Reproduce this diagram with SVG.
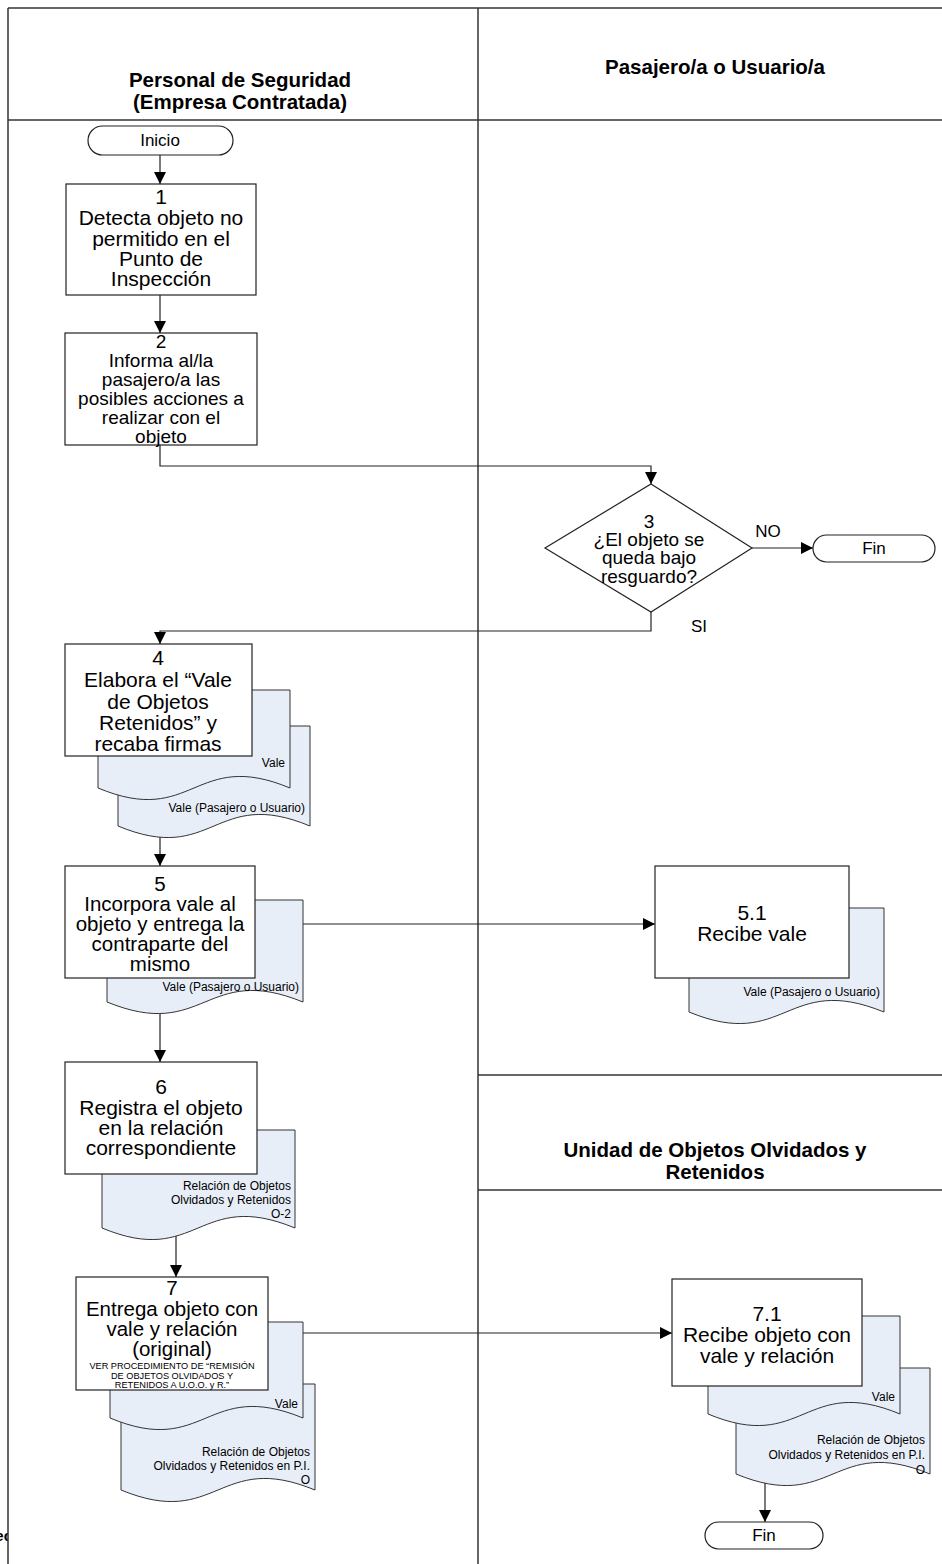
<svg xmlns="http://www.w3.org/2000/svg" width="942" height="1564" viewBox="0 0 942 1564">
  <defs>
    <marker id="arrow" viewBox="0 0 10 10" refX="10" refY="5" markerWidth="12" markerHeight="12" markerUnits="userSpaceOnUse" orient="auto">
      <path d="M0,0 L10,5 L0,10 Z" fill="#000"/>
    </marker>
    <style>
      .lane{fill:none;stroke:#333;stroke-width:1.5}
      .box{fill:#fff;stroke:#222;stroke-width:1.2}
      .doc{fill:#e8eef8;stroke:#333;stroke-width:1}
      .t{font-family:"Liberation Sans",Arial,sans-serif;font-size:21px;fill:#000;text-anchor:middle}
      .h{font-weight:bold;font-size:20.5px}
      .n{font-size:19px}
      .k{font-size:20.5px}
      .m{font-size:19px}
      .lb{font-size:17px}
      .d{font-size:12px;text-anchor:end}
      .s{font-size:9.2px}
      .c{fill:none;stroke:#222;stroke-width:1.2}
    </style>
  </defs>

  <rect width="942" height="1564" fill="#fff"/>
  <!-- text fragment spilling past the left edge of the pool -->
  <text class="t h" x="12" y="1541" style="text-anchor:end;font-size:15px">ec</text>

  <!-- swimlanes -->
  <g id="lanes">
    <rect x="8" y="8" width="940" height="1560" fill="#fff"/>
    <line class="lane" x1="8" y1="8" x2="942" y2="8"/>
    <line class="lane" x1="8" y1="8" x2="8" y2="1564"/>
    <line class="lane" x1="8" y1="120" x2="942" y2="120"/>
    <line class="lane" x1="478" y1="8" x2="478" y2="1564"/>
    <line class="lane" x1="478" y1="1075" x2="942" y2="1075"/>
    <line class="lane" x1="478" y1="1190" x2="942" y2="1190"/>
    <text class="t h" x="240" y="87">Personal de Seguridad</text>
    <text class="t h" x="240" y="109">(Empresa Contratada)</text>
    <text class="t h" x="715" y="74">Pasajero/a o Usuario/a</text>
    <text class="t h" x="715" y="1157">Unidad de Objetos Olvidados y</text>
    <text class="t h" x="715" y="1179">Retenidos</text>
  </g>

  <!-- connectors -->
  <g id="connectors">
    <path class="c" d="M160 155 V184" marker-end="url(#arrow)"/>
    <path class="c" d="M160 295 V333" marker-end="url(#arrow)"/>
    <path class="c" d="M160 445 V466 H651 V484" marker-end="url(#arrow)"/>
    <path class="c" d="M752 548 H813" marker-end="url(#arrow)"/>
    <path class="c" d="M651 612 V631 H160 V644" marker-end="url(#arrow)"/>
    <path class="c" d="M160 836 V866" marker-end="url(#arrow)"/>
    <path class="c" d="M303 924 H655" marker-end="url(#arrow)"/>
    <path class="c" d="M160 1013 V1062" marker-end="url(#arrow)"/>
    <path class="c" d="M176 1236 V1277" marker-end="url(#arrow)"/>
    <path class="c" d="M303 1333 H672" marker-end="url(#arrow)"/>
    <path class="c" d="M765 1483 V1522" marker-end="url(#arrow)"/>
    <text class="t lb" x="768" y="537">NO</text>
    <text class="t lb" x="699" y="632">SI</text>
  </g>

  <g id="inicio">
    <rect class="box" x="88" y="126" width="145" height="29" rx="14.5"/>
    <text class="t lb" x="160" y="146">Inicio</text>
  </g>

  <g id="step1">
    <rect class="box" x="66" y="184" width="190" height="111"/>
    <text class="t" x="161" y="204">1</text>
    <text class="t" x="161" y="225">Detecta objeto no</text>
    <text class="t" x="161" y="246">permitido en el</text>
    <text class="t" x="161" y="266">Punto de</text>
    <text class="t" x="161" y="286">Inspección</text>
  </g>

  <g id="step2">
    <rect class="box" x="65" y="333" width="192" height="112"/>
    <text class="t n" x="161" y="348">2</text>
    <text class="t n" x="161" y="367">Informa al/la</text>
    <text class="t n" x="161" y="386">pasajero/a las</text>
    <text class="t n" x="161" y="405">posibles acciones a</text>
    <text class="t n" x="161" y="424">realizar con el</text>
    <text class="t n" x="161" y="443">objeto</text>
  </g>

  <g id="step3">
    <polygon class="box" points="651,484 752,548 651,612 545,548"/>
    <text class="t m" x="649" y="528">3</text>
    <text class="t m" x="649" y="546">¿El objeto se</text>
    <text class="t m" x="649" y="564">queda bajo</text>
    <text class="t m" x="649" y="583">resguardo?</text>
  </g>

  <g id="fin1">
    <rect class="box" x="813" y="535" width="122" height="27" rx="13.5"/>
    <text class="t lb" x="874" y="554">Fin</text>
  </g>

  <g id="step4">
    <path class="doc" d="M118 726 H310 V826 C214 786 214 866 118 826 Z"/>
    <text class="t d" x="305" y="812">Vale (Pasajero o Usuario)</text>
    <path class="doc" d="M98 690 H290 V788 C194 748 194 828 98 788 Z"/>
    <text class="t d" x="285" y="767">Vale</text>
    <rect class="box" x="65" y="644" width="187" height="112"/>
    <text class="t" x="158" y="665">4</text>
    <text class="t" x="158" y="687">Elabora el “Vale</text>
    <text class="t" x="158" y="709">de Objetos</text>
    <text class="t" x="158" y="730">Retenidos” y</text>
    <text class="t" x="158" y="751">recaba firmas</text>
  </g>

  <g id="step5">
    <path class="doc" d="M107 900 H303 V1002 C205 962 205 1042 107 1002 Z"/>
    <text class="t d" x="299" y="991">Vale (Pasajero o Usuario)</text>
    <rect class="box" x="65" y="866" width="190" height="112"/>
    <text class="t k" x="160" y="891">5</text>
    <text class="t k" x="160" y="911">Incorpora vale al</text>
    <text class="t k" x="160" y="931">objeto y entrega la</text>
    <text class="t k" x="160" y="951">contraparte del</text>
    <text class="t k" x="160" y="971">mismo</text>
  </g>

  <g id="step5_1">
    <path class="doc" d="M689 908 H884 V1012 C786 972 786 1052 689 1012 Z"/>
    <text class="t d" x="880" y="996">Vale (Pasajero o Usuario)</text>
    <rect class="box" x="655" y="866" width="194" height="112"/>
    <text class="t" x="752" y="920">5.1</text>
    <text class="t" x="752" y="941">Recibe vale</text>
  </g>

  <g id="step6">
    <path class="doc" d="M102 1130 H295 V1228 C198 1188 198 1268 102 1228 Z"/>
    <text class="t d" x="291" y="1190">Relación de Objetos</text>
    <text class="t d" x="291" y="1204">Olvidados y Retenidos</text>
    <text class="t d" x="291" y="1218">O-2</text>
    <rect class="box" x="65" y="1062" width="192" height="112"/>
    <text class="t" x="161" y="1094">6</text>
    <text class="t" x="161" y="1115">Registra el objeto</text>
    <text class="t" x="161" y="1135">en la relación</text>
    <text class="t" x="161" y="1155">correspondiente</text>
  </g>

  <g id="step7">
    <path class="doc" d="M121 1384 H315 V1490 C218 1450 218 1530 121 1490 Z"/>
    <text class="t d" x="310" y="1456">Relación de Objetos</text>
    <text class="t d" x="310" y="1470">Olvidados y Retenidos en P.I.</text>
    <text class="t d" x="310" y="1484">O</text>
    <path class="doc" d="M110 1322 H303 V1418 C206 1378 206 1458 110 1418 Z"/>
    <text class="t d" x="298" y="1408">Vale</text>
    <rect class="box" x="76" y="1277" width="192" height="113"/>
    <text class="t k" x="172" y="1295">7</text>
    <text class="t k" x="172" y="1316">Entrega objeto con</text>
    <text class="t k" x="172" y="1336">vale y relación</text>
    <text class="t k" x="172" y="1356">(original)</text>
    <text class="t s" x="172" y="1369">VER PROCEDIMIENTO DE “REMISIÓN</text>
    <text class="t s" x="172" y="1379">DE OBJETOS OLVIDADOS Y</text>
    <text class="t s" x="172" y="1388">RETENIDOS A U.O.O. y R.”</text>
  </g>

  <g id="step7_1">
    <path class="doc" d="M736 1368 H930 V1474 C833 1434 833 1514 736 1474 Z"/>
    <text class="t d" x="925" y="1444">Relación de Objetos</text>
    <text class="t d" x="925" y="1459">Olvidados y Retenidos en P.I.</text>
    <text class="t d" x="925" y="1474">O</text>
    <path class="doc" d="M708 1316 H900 V1414 C804 1374 804 1454 708 1414 Z"/>
    <text class="t d" x="895" y="1401">Vale</text>
    <rect class="box" x="672" y="1279" width="190" height="107"/>
    <text class="t" x="767" y="1321">7.1</text>
    <text class="t" x="767" y="1342">Recibe objeto con</text>
    <text class="t" x="767" y="1363">vale y relación</text>
  </g>

  <g id="fin2">
    <rect class="box" x="705" y="1522" width="118" height="27" rx="13.5"/>
    <text class="t lb" x="764" y="1541">Fin</text>
  </g>
</svg>
